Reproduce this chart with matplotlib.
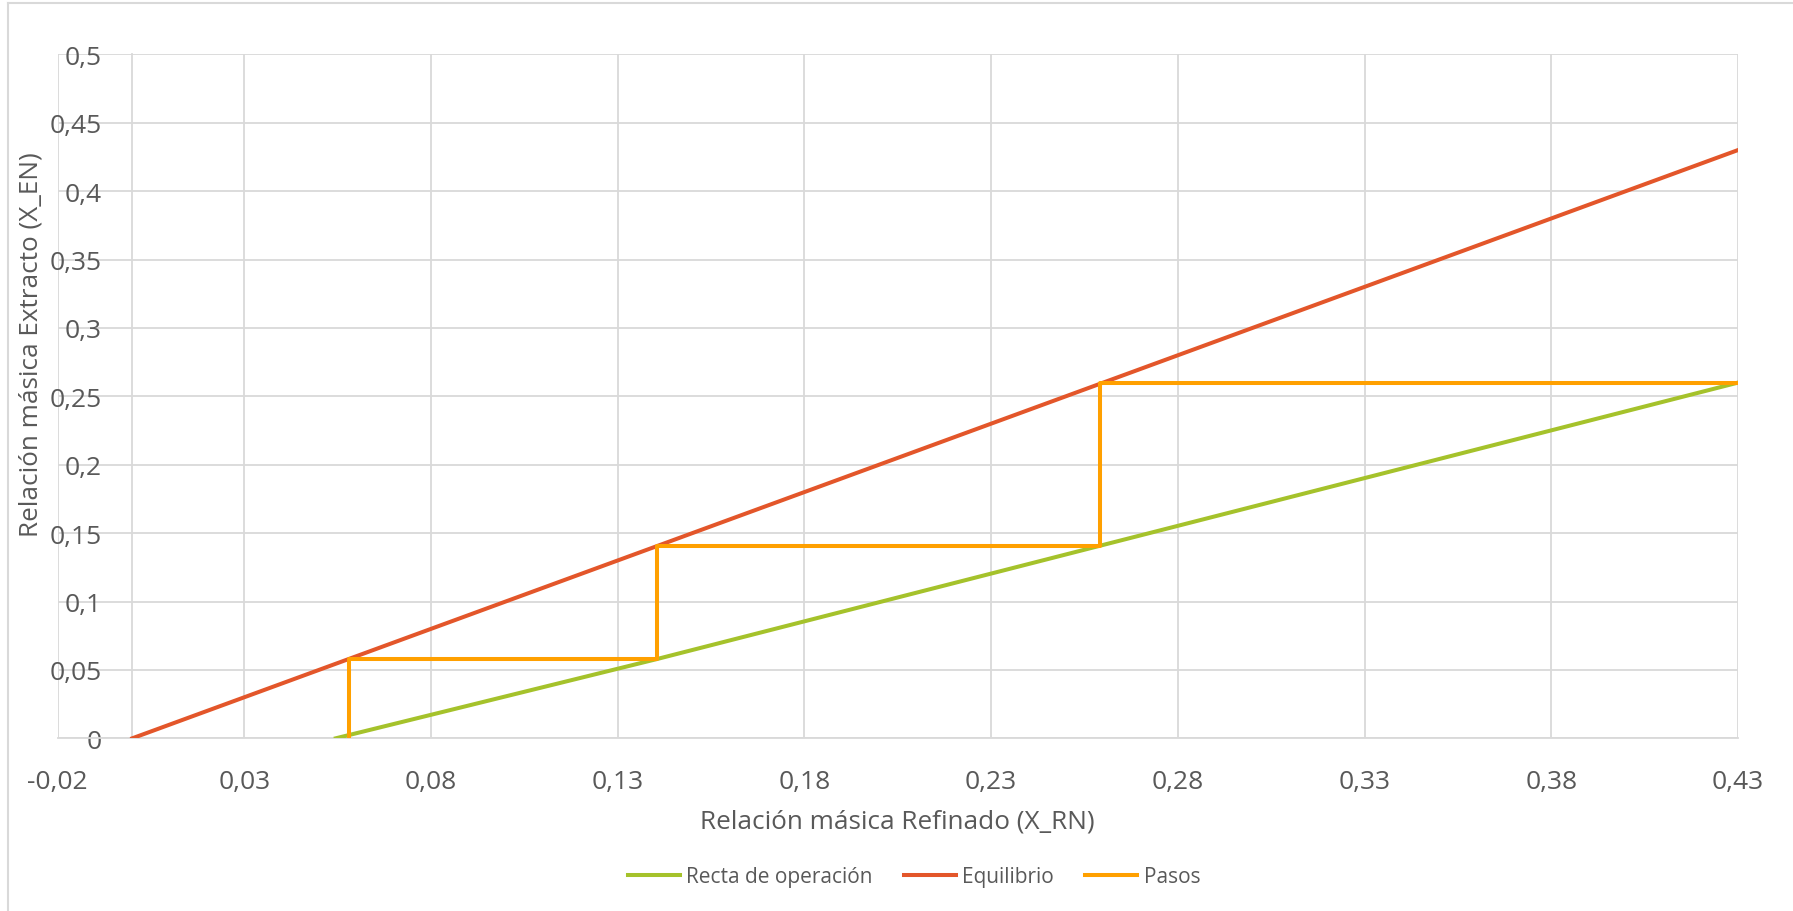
import matplotlib
matplotlib.use("Agg")
import matplotlib.pyplot as plt
from matplotlib.lines import Line2D
from matplotlib.ticker import FuncFormatter

# operating line (Recta de operación)
op_x = [0.0545, 0.1406, 0.2592, 0.43]
op_y = [0.0, 0.0580, 0.1408, 0.2600]

# equilibrium line
eq_x = [0.0, 0.43]
eq_y = [0.0, 0.43]

# staircase (Pasos)
st_x = [0.43, 0.2592, 0.2592, 0.1406, 0.1406, 0.0580, 0.0580]
st_y = [0.2600, 0.2600, 0.1408, 0.1408, 0.0580, 0.0580, 0.0]

x_ticks = [-0.02, 0.03, 0.08, 0.13, 0.18, 0.23, 0.28, 0.33, 0.38, 0.43]
y_ticks = [0, 0.05, 0.1, 0.15, 0.2, 0.25, 0.3, 0.35, 0.4, 0.45, 0.5]

plt.rcParams["font.family"] = ["Open Sans", "DejaVu Sans"]

GRID = "#d9d9d9"
TXT = "#595959"

W, H = 1793, 912
fig = plt.figure(figsize=(W / 100, H / 100), dpi=100)
ax = fig.add_axes([57.6 / W, 1 - 739.3 / H, (1738 - 57.6) / W, (739.3 - 55.3) / H])

ax.plot(op_x, op_y, color="#a5c22b", lw=2.9, label="Recta de operación", zorder=3)
ax.plot(eq_x, eq_y, color="#e3562a", lw=2.9, label="Equilibrio", zorder=3)
ax.plot(st_x, st_y, color="#ffa000", lw=2.9, label="Pasos", zorder=3)

ax.set_xlim(-0.02, 0.43)
ax.set_ylim(0, 0.5)
ax.set_xticks(x_ticks)
ax.set_yticks(y_ticks)


def comma(v, pos):
    s = f"{v:.2f}".rstrip("0").rstrip(".")
    if s == "-0":
        s = "0"
    return s.replace(".", ",")


ax.xaxis.set_major_formatter(FuncFormatter(comma))
ax.yaxis.set_major_formatter(FuncFormatter(comma))
ax.grid(True, color=GRID, lw=1.3, zorder=0)
ax.set_axisbelow(True)

for side in ["top", "right"]:
    ax.spines[side].set_visible(False)
ax.spines["left"].set_position(("data", 0))
ax.spines["left"].set_color(GRID)
ax.spines["left"].set_linewidth(1.3)
ax.spines["bottom"].set_color(GRID)
ax.spines["bottom"].set_linewidth(1.3)

ax.tick_params(axis="x", length=0, pad=22, labelsize=19, labelcolor=TXT)
ax.tick_params(axis="y", length=0, pad=22, labelsize=19, labelcolor=TXT)

fig.text(897 / W, 1 - 822 / H, "Relación másica Refinado (X_RN)",
         ha="center", va="center", fontsize=18.8, color=TXT)
fig.text(31 / W, 1 - 345 / H, "Relación másica Extracto (X_EN)",
         ha="center", va="center", rotation=90, fontsize=18.8, color=TXT)

fig.legend(loc="center", bbox_to_anchor=(914 / W, 1 - 878 / H), ncol=3,
           frameon=False, fontsize=15, labelcolor=TXT, handlelength=2.5,
           handletextpad=0.3, columnspacing=1.5)

# chart area border (left and top visible)
fig.add_artist(Line2D([8 / W, 8 / W], [0, 1 - 4 / H], color=GRID, lw=1.5))
fig.add_artist(Line2D([8 / W, 1], [1 - 4 / H, 1 - 4 / H], color=GRID, lw=1.5))

fig.savefig("out.png", dpi=100)
